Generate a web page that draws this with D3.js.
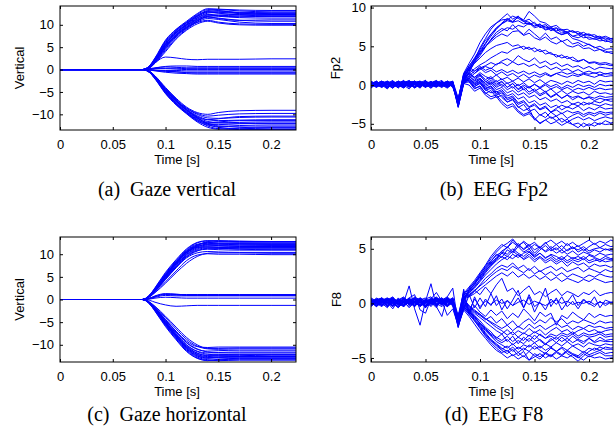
<!DOCTYPE html>
<html>
<head>
<meta charset="utf-8">
<script src="https://d3js.org/d3.v7.min.js"></script>
<style>
  body { margin: 0; background: #fff; }
  .axis text { font-family: "Liberation Sans", Arial, sans-serif; font-size: 13px; fill: #000; }
  .axis line { stroke: #000; }
  .lab { font-family: "Liberation Sans", Arial, sans-serif; font-size: 13px; fill: #000; }
  .cap { font-family: "Liberation Serif", "Times New Roman", serif; font-size: 20px; fill: #000; white-space: pre; }
</style>
</head>
<body>
<div id="chart"></div>
<script>

// sample times (s)
var gazeTimes = [0, 0.078, 0.085, 0.09, 0.1, 0.11, 0.12, 0.13, 0.14, 0.15, 0.17, 0.2, 0.224];
var eegTimes = [0, 0.005, 0.01, 0.015, 0.02, 0.025, 0.03, 0.035, 0.04, 0.045, 0.05, 0.055, 0.06, 0.065, 0.07, 0.075,
  0.08, 0.085, 0.09, 0.095, 0.1, 0.105, 0.11, 0.115, 0.12, 0.125, 0.13, 0.135, 0.14, 0.145, 0.15, 0.155,
  0.16, 0.165, 0.17, 0.175, 0.18, 0.185, 0.19, 0.195, 0.2, 0.205, 0.21, 0.215, 0.22, 0.225];

var xTicks = [0, 0.05, 0.1, 0.15, 0.2];
var gazeYTicks = [-10, -5, 0, 5, 10];
var fp2YTicks = [-5, 0, 5, 10];
var f8YTicks = [-5, 0, 5];

// (a) gaze vertical
var gazeVertical = [
  [0,0,0.8,2.2,5.8,8.4,10.2,12.0,13.2,13.4,13.1,12.9,12.9],
  [0,0,0.6,1.9,5.2,7.9,9.8,11.5,12.6,12.8,12.5,12.3,12.3],
  [0,0,0.9,2.5,6.4,8.9,10.6,12.3,13.4,13.2,12.6,12.4,12.4],
  [0,0,0.5,1.6,4.6,7.3,9.2,10.8,11.7,11.5,11.0,10.8,10.8],
  [0,0,0.7,2.0,5.5,8.1,9.9,11.2,12.0,11.9,11.6,11.5,11.5],
  [0,0,0.6,1.8,5.0,7.6,9.4,10.5,11.0,10.6,10.2,10.1,10.1],
  [0,0,0.8,2.3,6.0,8.6,10.4,11.8,12.8,12.9,12.8,12.7,12.7],
  [0,0,0.4,1.5,4.3,7.0,9.0,10.6,11.4,11.2,10.6,10.3,10.3],
  [0,0,0.7,2.1,5.6,8.2,10.0,11.6,12.3,12.0,11.8,11.9,11.9],
  [0,0,0.9,2.6,6.6,9.0,10.8,12.5,13.6,13.5,13.3,13.2,13.2],
  [0,0,0.5,1.7,4.8,7.5,9.3,10.9,11.9,12.1,12.0,11.9,11.9],
  [0,0,0.6,2.0,5.3,7.8,9.6,11.0,11.8,11.4,11.0,11.1,11.1],
  [0,0,0.7,2.2,5.7,8.3,10.1,11.9,12.9,12.6,12.2,12.0,12.0],
  [0,0,0.4,1.4,4.0,6.8,8.8,10.2,10.8,10.4,10.0,9.9,9.9],
  [0,0,0.8,2.4,6.2,8.7,10.5,12.1,13.0,13.1,12.7,12.5,12.5],
  [0,0,0.6,1.9,5.1,7.7,9.5,11.3,12.2,12.4,12.3,12.2,12.2],
  [0,0,0.5,1.5,2.8,2.6,2.3,2.2,2.3,2.3,2.3,2.4,2.4],
  [0,0,0.2,0.4,0.6,0.5,0.4,0.4,0.4,0.4,0.4,0.4,0.4],
  [0,0,0.1,0.2,0.2,0.1,0.0,0.0,0.0,0.0,0.0,0.0,0.0],
  [0,0,-0.1,-0.2,-0.4,-0.5,-0.6,-0.6,-0.6,-0.6,-0.6,-0.6,-0.6],
  [0,0,-0.1,-0.3,-0.6,-0.8,-0.9,-1.0,-1.0,-1.0,-1.0,-1.0,-1.0],
  [0,0,0.1,0.3,0.7,0.8,0.8,0.7,0.7,0.7,0.7,0.7,0.7],
  [0,0,0,-0.1,-0.2,-0.2,-0.3,-0.3,-0.3,-0.3,-0.3,-0.3,-0.3],
  [0,0,0.1,0.2,0.3,0.3,0.2,0.2,0.2,0.2,0.2,0.2,0.2],
  [0,0,-0.1,-0.2,-0.3,-0.5,-0.7,-0.8,-0.8,-0.8,-0.8,-0.8,-0.8],
  [0,0,-0.6,-1.8,-4.8,-7.2,-9.2,-10.8,-12.0,-12.6,-12.8,-12.9,-12.9],
  [0,0,-0.5,-1.5,-4.2,-6.6,-8.6,-9.8,-10.4,-10.2,-9.9,-9.8,-9.8],
  [0,0,-0.7,-2.0,-5.2,-7.7,-9.7,-11.4,-12.6,-13.2,-13.4,-13.4,-13.4],
  [0,0,-0.5,-1.6,-4.4,-6.9,-8.9,-10.3,-11.2,-11.4,-11.3,-11.2,-11.2],
  [0,0,-0.6,-1.9,-5.0,-7.5,-9.5,-11.1,-12.2,-12.3,-12.1,-12.0,-12.0],
  [0,0,-0.4,-1.4,-4.0,-6.4,-8.4,-9.6,-10.0,-9.6,-9.2,-9.1,-9.1],
  [0,0,-0.7,-2.1,-5.4,-7.9,-9.9,-11.7,-12.9,-13.3,-13.0,-12.8,-12.8],
  [0,0,-0.5,-1.7,-4.6,-7.0,-9.0,-10.6,-11.6,-11.9,-11.8,-11.7,-11.7],
  [0,0,-0.6,-1.8,-4.9,-7.4,-9.4,-10.9,-11.8,-11.7,-11.4,-11.4,-11.4],
  [0,0,-0.4,-1.5,-4.3,-6.8,-8.7,-10.0,-10.8,-10.9,-10.7,-10.6,-10.6],
  [0,0,-0.7,-2.0,-5.3,-7.8,-9.8,-11.5,-12.4,-12.7,-12.5,-12.4,-12.4],
  [0,0,-0.6,-1.7,-4.7,-7.1,-9.1,-10.7,-12.2,-12.9,-13.2,-13.1,-13.1],
  [0,0,-0.5,-1.6,-4.5,-6.9,-9.0,-10.5,-11.2,-11.0,-10.5,-10.4,-10.4],
  [0,0,-0.6,-1.9,-5.1,-7.6,-9.6,-11.2,-12.0,-11.9,-12.0,-12.1,-12.1]
];

// (c) gaze horizontal
var gazeHorizontal = [
  [0,0,0.9,2.2,5.2,8.0,10.4,11.8,12.2,12.2,12.1,12.1,12.1],
  [0,0,0.8,2.0,4.8,7.5,9.9,11.2,11.6,11.5,11.4,11.4,11.4],
  [0,0,1.0,2.5,5.8,8.6,11.0,12.5,12.9,12.8,12.7,12.7,12.7],
  [0,0,0.7,1.8,4.4,7.0,9.2,10.3,10.6,10.5,10.4,10.4,10.4],
  [0,0,0.9,2.3,5.4,8.2,10.6,12.0,12.6,12.5,12.4,12.4,12.4],
  [0,0,0.6,1.6,3.9,6.3,8.6,9.8,10.1,10.0,10.0,9.9,9.9],
  [0,0,0.8,2.1,5.0,7.8,10.2,11.6,12.0,11.9,11.8,11.9,11.9],
  [0,0,1.0,2.4,5.6,8.4,10.8,12.2,12.4,12.3,12.3,12.2,12.2],
  [0,0,0.7,1.9,4.6,7.2,9.5,10.8,11.1,11.0,10.9,10.9,10.9],
  [0,0,0.9,2.2,5.3,8.1,10.5,11.9,12.8,13.0,12.9,12.8,12.8],
  [0,0,0.8,2.0,4.9,7.6,10.0,11.4,11.8,11.8,11.7,11.7,11.7],
  [0,0,0.6,1.5,3.6,5.9,8.0,9.5,10.2,10.3,10.3,10.2,10.2],
  [0,0,0.9,2.3,5.5,8.3,10.7,12.1,12.5,12.4,12.5,12.5,12.5],
  [0,0,0.7,1.8,4.5,7.1,9.4,10.7,11.3,11.3,11.2,11.2,11.2],
  [0,0,1.0,2.6,6.0,8.8,11.2,12.6,13.0,12.9,12.8,12.8,12.8],
  [0,0,0.8,2.1,5.1,7.9,10.3,11.7,12.1,12.0,12.0,12.0,12.0],
  [0,0,0.7,1.9,4.7,7.3,9.7,11.0,11.4,11.3,11.1,11.0,11.0],
  [0,0,0.8,2.2,5.2,8.0,10.4,11.5,11.6,11.5,11.5,11.5,11.5],
  [0,0,0.3,0.8,1.3,1.2,1.0,1.0,1.0,1.0,1.0,1.0,1.0],
  [0,0,0.2,0.6,1.1,1.0,0.9,0.9,0.9,0.9,0.9,0.9,0.9],
  [0,0,0.3,0.7,1.2,1.1,1.1,1.1,1.1,1.1,1.1,1.1,1.1],
  [0,0,0.1,0.3,0.5,0.4,0.3,0.3,0.3,0.3,0.3,0.3,0.3],
  [0,0,-0.2,-0.6,-1.2,-1.5,-1.4,-1.3,-1.3,-1.3,-1.3,-1.3,-1.3],
  [0,0,0.2,0.5,0.9,0.8,0.8,0.8,0.8,0.8,0.8,0.8,0.8],
  [0,0,-0.9,-2.2,-5.2,-8.0,-10.6,-12.2,-12.8,-12.9,-12.9,-12.9,-12.9],
  [0,0,-0.8,-2.0,-4.8,-7.5,-10.0,-11.4,-11.8,-11.7,-11.6,-11.6,-11.6],
  [0,0,-1.0,-2.5,-5.8,-8.7,-11.3,-12.9,-13.4,-13.3,-13.2,-13.2,-13.2],
  [0,0,-0.7,-1.8,-4.4,-7.0,-9.2,-10.4,-10.6,-10.5,-10.5,-10.5,-10.5],
  [0,0,-0.9,-2.3,-5.4,-8.2,-10.8,-12.4,-12.9,-12.7,-12.6,-12.6,-12.6],
  [0,0,-0.6,-1.6,-4.0,-6.5,-8.8,-10.3,-10.9,-11.0,-10.9,-10.9,-10.9],
  [0,0,-0.8,-2.1,-5.0,-7.8,-10.3,-11.8,-12.3,-12.2,-12.1,-12.1,-12.1],
  [0,0,-1.0,-2.4,-5.6,-8.5,-11.1,-12.7,-13.3,-13.5,-13.4,-13.4,-13.4],
  [0,0,-0.7,-1.9,-4.6,-7.2,-9.6,-11.0,-11.4,-11.3,-11.2,-11.2,-11.2],
  [0,0,-0.9,-2.2,-5.3,-8.1,-10.6,-12.1,-12.6,-12.5,-12.6,-12.6,-12.6],
  [0,0,-0.8,-2.0,-4.9,-7.6,-10.1,-11.5,-12.1,-12.2,-12.2,-12.2,-12.2],
  [0,0,-0.6,-1.5,-3.7,-6.1,-8.4,-10.0,-10.8,-10.8,-10.7,-10.7,-10.7],
  [0,0,-0.9,-2.3,-5.5,-8.3,-10.9,-12.5,-13.0,-12.8,-12.7,-12.7,-12.7],
  [0,0,-0.7,-1.8,-4.5,-7.1,-9.5,-10.9,-11.6,-11.8,-11.8,-11.8,-11.8],
  [0,0,-1.0,-2.6,-6.0,-8.9,-11.5,-13.0,-13.5,-13.2,-13.0,-13.0,-13.0],
  [0,0,-0.8,-2.1,-5.1,-7.9,-10.4,-11.9,-12.4,-12.4,-12.4,-12.3,-12.3]
];

// (b) EEG Fp2
var eegFp2 = [
  [0.3,-0.2,0.5,0.1,-0.4,0.2,0.6,-0.1,0.3,-0.3,0.4,0.1,-0.2,0.5,0,0.3,-2.2,1.2,2.4,3.5,4.6,5.8,6.5,7.4,7.9,8.3,8.1,8.8,8.4,9.5,8.9,8.2,8.0,7.5,7.7,7.1,7.2,6.8,6.9,6.5,6.6,6.2,6.0,6.1,5.8,5.9],
  [-0.2,0.4,0,-0.5,0.3,0.1,-0.3,0.5,0.2,-0.1,0.6,-0.2,0.3,0,-0.4,0.2,-2.6,0.8,2.0,3.2,4.8,6.0,7.2,8.0,8.6,9.2,8.5,8.9,8.2,7.8,8.1,7.4,7.6,7.0,7.3,6.7,6.9,6.3,6.5,6.1,6.2,5.9,6.0,5.6,5.7,5.5],
  [0.5,0.1,-0.3,0.2,0.6,-0.2,0.1,0.4,-0.3,0.2,0,0.5,-0.1,0.2,0.4,-0.2,-1.9,1.5,2.8,4.0,5.5,6.6,7.5,8.0,8.4,8.5,8.1,8.3,7.9,8.0,7.6,7.8,7.4,7.5,7.0,7.2,6.8,7.0,6.6,6.8,6.4,6.5,6.1,6.3,6.0,6.1],
  [0,0.4,0.2,-0.3,0.1,0.5,-0.2,0.3,0.1,-0.4,0.3,0.2,0.5,-0.1,0.2,0.4,-2.4,1.0,2.2,3.3,4.4,5.4,6.6,7.3,8.0,8.6,8.2,8.8,8.3,8.1,7.6,7.9,7.2,7.4,6.8,6.5,6.7,6.0,5.8,5.5,5.2,4.9,4.6,4.4,4.1,4.0],
  [0.2,-0.3,0.1,0.4,-0.1,0.3,0,-0.5,0.2,0.4,-0.2,0.1,0.3,0.6,-0.3,0.1,-2.0,0.6,1.8,2.9,3.8,4.9,5.9,6.8,7.3,7.0,7.8,7.1,6.5,7.2,6.6,6.0,6.7,5.9,6.2,5.6,5.9,5.3,5.5,5.0,5.3,4.8,5.0,4.6,4.7,4.5],
  [-0.4,0.2,0.5,0,0.3,-0.2,0.4,0.1,-0.3,0.5,0.2,-0.1,0.4,0.1,0.3,0,-2.8,0.4,1.6,3.0,4.2,5.3,6.3,7.2,7.9,8.4,8.9,8.6,8.2,8.5,7.9,7.6,7.8,7.2,7.4,7.0,6.8,7.0,6.6,6.4,6.5,6.2,6.3,5.9,6.0,5.9],
  [0.1,0.5,-0.2,0.3,0.2,-0.4,0.3,0.6,0,0.2,-0.3,0.4,0.1,-0.2,0.3,0.5,-1.7,1.3,2.5,3.4,4.2,5.0,5.6,6.2,6.6,6.3,6.9,7.0,6.4,6.7,6.1,5.8,6.2,5.6,5.3,5.7,5.1,4.9,5.2,4.7,4.8,4.4,4.6,4.2,4.3,4.2],
  [0.3,0,0.4,-0.2,0.5,0.1,-0.1,0.3,0.5,0,0.2,-0.4,0.3,0.2,-0.1,0.4,-2.3,0.9,2.1,3.1,4.0,5.0,5.8,6.5,7.0,7.4,7.2,7.7,7.5,8.0,7.4,7.6,7.1,7.3,6.9,6.5,6.8,6.3,6.1,6.4,5.9,6.0,5.7,5.8,5.5,5.6],
  [0.2,-0.1,0.3,0.5,0,-0.3,0.2,0.4,-0.2,0.1,0.5,0.2,-0.1,0.3,0,0.2,-2.1,0.7,1.5,2.1,2.6,3.0,3.5,3.9,4.3,4.1,4.6,4.8,5.0,4.6,4.8,4.3,4.5,4.0,3.9,3.5,3.7,3.2,3.0,3.3,2.8,2.9,2.6,2.7,2.5,2.6],
  [-0.1,0.3,0.1,-0.3,0.4,0.2,0,0.5,0.1,-0.2,0.3,0.4,0,0.2,0.5,-0.1,-2.5,0.5,1.2,1.8,2.2,2.5,2.9,2.6,3.1,3.4,3.0,3.8,3.3,3.0,3.5,2.8,3.1,2.6,2.9,2.4,2.7,2.3,2.5,2.1,2.4,2.0,2.3,2.2,2.1,2.2],
  [0.4,0.1,-0.2,0.3,0,0.5,0.2,-0.3,0.4,0.1,-0.1,0.3,0.6,0,0.2,0.3,-1.8,1.1,2.0,2.8,3.5,4.2,4.7,5.1,5.3,5.5,5.0,5.2,4.6,4.9,4.3,4.6,4.0,4.2,3.6,3.9,3.4,3.6,3.1,3.3,2.9,3.0,2.8,2.9,2.7,2.6],
  [0,0.2,0.5,-0.1,0.2,0.4,-0.2,0.1,0.3,0.5,-0.2,0,0.4,0.1,-0.3,0.2,-2.7,0.2,0.9,1.5,2.0,2.4,2.1,2.7,2.9,2.5,3.0,2.6,2.8,2.4,2.7,2.2,2.5,2.0,2.3,1.9,2.1,1.7,2.0,1.6,1.8,1.5,1.7,1.4,1.6,1.5],
  [0.3,-0.2,0.1,0.4,-0.3,0.2,0.5,0,-0.2,0.3,0.1,-0.4,0.2,0.4,-0.1,0.1,-2.4,0.9,1.4,1.0,1.6,1.1,0.8,1.3,0.7,1.0,0.5,0.9,0.4,0.8,0.3,0.7,0.2,0.6,0.4,0.1,0.5,0.2,0.6,0.3,0.5,0.1,0.6,0.4,0.5,0.4],
  [-0.3,0.2,0.4,0,-0.4,0.3,0.1,-0.2,0.5,0.2,-0.1,0.3,0,-0.3,0.4,0.1,-2.9,0.3,1.1,0.6,1.2,0.5,0.1,0.6,-0.2,0.3,-0.4,0.1,-0.6,-0.2,-0.8,-0.4,-0.9,-0.5,-1.1,-0.7,-1.2,-0.8,-1.1,-0.9,-1.3,-0.8,-1.1,-1.0,-1.2,-1.0],
  [0.5,0,-0.3,0.3,0.2,-0.1,0.4,0.2,-0.4,0.1,0.5,0,-0.2,0.2,0.3,-0.3,-2.2,0.6,0.9,0.2,0.7,-0.2,0.2,-0.6,-0.3,-1.0,-0.7,-1.3,-1.0,-1.6,-1.3,-1.9,-1.6,-2.1,-1.8,-2.3,-2.0,-2.5,-2.2,-2.6,-2.3,-2.5,-2.7,-2.4,-2.6,-2.5],
  [0.1,0.4,-0.2,0.2,0.5,0,-0.3,0.3,0.1,-0.2,0.4,0.2,-0.1,0.5,0,0.2,-2.6,0.4,0.6,-0.2,0.3,-0.6,-1.0,-0.8,-1.6,-2.2,-1.9,-2.8,-3.3,-3.0,-4.5,-3.8,-4.2,-3.5,-4.0,-3.6,-4.3,-3.9,-3.6,-4.1,-3.7,-4.0,-3.6,-3.9,-3.7,-3.8],
  [-0.2,0.3,0.1,-0.4,0.2,0.4,0,-0.1,0.3,0.5,-0.3,0.1,0.4,0,-0.2,0.3,-2.3,0.2,0.0,-0.8,-0.4,-1.3,-1.8,-1.5,-2.4,-3.0,-2.7,-3.5,-4.0,-3.7,-4.4,-4.9,-4.5,-5.0,-4.7,-5.2,-4.8,-5.1,-4.9,-5.4,-5.0,-5.3,-4.9,-5.1,-5.0,-5.2],
  [0.2,-0.1,0.5,0.1,-0.3,0.4,0.2,-0.2,0,0.3,0.6,-0.1,0.2,0.3,0.1,-0.2,-2.0,1.0,1.5,0.8,1.3,0.4,0.9,0.1,0.5,-0.3,0.2,-0.6,-0.2,-0.9,-0.5,-1.2,-0.8,-1.5,-1.1,-1.7,-1.3,-1.9,-1.5,-1.8,-1.6,-2.0,-1.7,-1.9,-1.8,-1.8],
  [-0.1,0.3,0,0.4,0.1,-0.3,0.3,0.5,0.1,-0.2,0.2,0.4,0,-0.1,0.5,0.2,-2.1,1.3,2.0,1.5,2.2,1.6,1.9,1.3,1.7,1.2,1.5,1.0,1.4,0.9,1.3,1.0,1.4,1.1,1.5,1.2,1.0,1.3,1.1,1.4,1.2,1.0,1.3,1.1,1.2,1.2],
  [0.4,0.1,-0.2,0.5,0.2,0,-0.4,0.2,0.4,0.1,-0.3,0.3,0.5,0.2,-0.1,0.1,-2.5,0.5,0.8,0.1,0.5,-0.4,-0.1,-0.9,-0.6,-1.4,-1.1,-1.8,-1.5,-2.3,-2.0,-2.6,-2.3,-2.9,-2.6,-3.2,-2.8,-3.1,-2.7,-3.3,-2.9,-3.2,-2.8,-3.1,-3.0,-3.0],
  [0,0.4,0.2,-0.2,0.3,0.1,-0.1,0.4,0.2,0.5,-0.2,0.1,0.3,-0.3,0.2,0.4,-2.7,0.7,1.2,0.5,0.9,0.2,0.6,-0.1,0.4,-0.3,0.2,-0.5,0.0,-0.4,0.1,-0.3,0.2,-0.2,0.1,-0.4,0.0,-0.3,0.1,-0.2,0.0,-0.3,0.1,-0.1,0.0,-0.1],
  [0.3,-0.1,0.2,0.4,-0.2,0.1,0.5,0.2,-0.3,0.2,0.1,0.4,-0.2,0.3,0.1,0,-2.4,0.3,0.4,-0.5,-0.1,-1.1,-0.7,-1.6,-1.3,-2.2,-1.8,-2.9,-2.5,-3.4,-3.1,-3.9,-3.5,-4.3,-4.0,-4.8,-4.4,-5.1,-5.5,-4.9,-5.3,-4.8,-5.1,-4.6,-4.9,-4.7],
  [-0.2,0.2,0.5,0.1,-0.1,0.3,0,0.4,0.1,-0.3,0.3,0.2,0.5,0,0.2,-0.1,-2.2,0.8,1.6,1.0,1.4,0.7,1.1,0.4,0.8,0.2,0.5,-0.1,0.3,-0.3,0.1,-0.4,0.0,-0.5,-0.2,-0.6,-0.3,-0.7,-0.4,-0.6,-0.3,-0.6,-0.4,-0.6,-0.5,-0.5],
  [0.1,-0.3,0.3,0.2,0.4,-0.2,0.1,0.3,0.5,0,-0.1,0.3,0.2,0.4,-0.2,0.3,-2.8,0.1,0.9,0.3,0.8,0.0,0.4,-0.3,0.1,-0.6,-0.2,-0.9,-0.5,-1.2,-0.8,-1.4,-1.0,-1.6,-1.2,-1.7,-1.3,-1.6,-1.4,-1.8,-1.5,-1.7,-1.4,-1.6,-1.5,-1.5],
  [0.2,0.5,0,-0.2,0.3,0.1,0.4,-0.3,0.2,0.3,0,-0.2,0.4,0.1,0.3,0.2,-2.1,0.6,0.5,-0.4,-0.2,-1.0,-1.5,-1.3,-2.1,-2.7,-2.4,-3.3,-3.8,-3.5,-4.2,-5.0,-4.5,-4.1,-4.6,-4.3,-4.8,-4.4,-4.1,-4.5,-4.2,-4.6,-4.3,-4.1,-4.3,-4.2],
  [0.4,0.1,0.3,-0.2,0.2,0.5,0.1,-0.1,0.3,0.4,0.2,0,-0.3,0.2,0.5,0.1,-1.9,1.5,2.3,1.8,2.4,1.9,2.2,1.7,2.0,1.6,1.9,1.5,1.8,1.4,1.7,1.3,1.6,1.2,1.5,1.7,1.4,1.6,1.3,1.5,1.4,1.6,1.3,1.5,1.4,1.5],
  [-0.3,0.1,0.4,0.2,-0.1,0.3,0.5,0,0.2,-0.2,0.4,0.1,0.3,-0.1,0.2,0.5,-2.6,0.4,0.7,0.0,0.4,-0.5,-0.2,-1.1,-0.8,-1.7,-1.4,-2.3,-2.0,-2.8,-2.4,-3.1,-2.7,-3.5,-3.0,-2.6,-2.9,-2.4,-2.7,-2.2,-2.5,-2.1,-2.3,-1.9,-2.1,-2.0],
  [0.1,0.3,-0.1,0.4,0,0.2,-0.2,0.5,0.3,0.1,-0.2,0.4,0.1,0.2,0.4,-0.1,-2.3,0.7,0.6,-0.2,0.2,-0.7,-0.4,-1.3,-1.0,-1.9,-1.6,-2.5,-2.2,-2.9,-2.6,-3.2,-2.9,-3.5,-3.2,-3.7,-3.3,-3.6,-3.4,-3.8,-3.5,-3.7,-3.4,-3.6,-3.5,-3.5]
];

// (d) EEG F8
var eegF8 = [
  [0.2,-0.3,0.4,0.1,-0.5,0.3,0.6,-0.2,0.1,0.4,-0.3,0.2,0.5,-0.1,0.3,0,-1.2,0.5,0.9,1.5,2.2,2.9,3.6,4.2,4.8,5.1,5.6,5.2,5.7,5.3,5.6,5.1,5.5,5.8,5.4,5.7,5.3,5.6,5.2,5.5,5.8,5.4,5.7,5.5,5.8,5.6],
  [-0.3,0.2,0,0.5,0.2,-0.4,0.1,0.3,0.5,-0.2,0.2,0.4,-0.1,0.3,0.6,0.1,-1.8,0.2,1.1,1.8,2.6,3.4,4.1,4.7,5.2,5.5,5.9,5.3,5.0,5.4,4.9,5.2,4.7,5.0,4.6,4.9,4.5,4.8,4.4,4.7,4.5,4.3,4.6,4.4,4.5,4.5],
  [0.4,0.1,-0.2,0.3,0.6,0,-0.3,0.2,0.4,0.1,-0.4,0.3,0.2,0.5,-0.2,0.3,-1.5,0.8,1.0,1.4,2.0,2.6,3.1,3.6,4.0,4.3,4.1,4.5,4.0,4.3,3.8,4.2,3.7,4.0,3.6,3.9,3.4,3.8,3.5,3.7,3.3,3.6,3.4,3.5,3.3,3.5],
  [0,0.5,0.2,-0.3,0.1,0.4,0.2,-0.1,0.6,0.3,-0.2,0.1,0.4,0.2,-0.3,0.5,-2.0,0.4,1.3,2.0,2.4,3.2,3.8,4.5,4.2,4.9,4.6,5.2,4.7,5.0,4.4,4.9,5.3,4.8,5.1,4.6,4.9,5.2,4.7,5.0,4.6,4.9,4.7,5.0,4.8,4.8],
  [0.3,-0.2,0.1,0.4,0,-0.3,0.5,0.2,-0.1,0.3,0.1,0.4,-0.2,0.2,0.1,0.4,-1.4,0.6,0.8,1.2,1.6,2.0,2.5,2.9,3.2,3.0,3.4,3.1,2.8,3.2,2.7,3.0,2.6,2.9,2.5,2.8,2.4,2.7,2.5,2.3,2.6,2.4,2.7,2.5,2.4,2.5],
  [-0.2,0.3,0.5,0,0.2,-0.1,0.4,0.1,-0.3,0.5,0.2,0,0.3,-0.2,0.4,0.2,-1.7,0.3,1.2,1.7,2.5,3.1,3.7,4.1,4.6,4.3,4.8,4.4,4.1,4.5,4.0,4.3,3.9,4.2,3.8,4.1,3.7,4.0,3.8,4.1,3.7,3.9,4.0,3.8,3.9,3.9],
  [0.1,0.4,-0.2,0.2,0.5,0.1,-0.3,0.3,0.2,-0.1,0.4,0.6,0,0.2,0.3,-0.1,-1.3,0.9,1.5,2.1,2.8,3.5,4.3,4.9,5.4,5.1,5.8,5.3,5.6,5.0,5.4,5.1,4.8,5.2,4.9,5.3,4.8,5.1,4.9,5.2,4.8,5.0,5.1,4.9,5.0,5.0],
  [0.5,0.2,0,-0.4,0.3,0.2,0.1,0.4,-0.2,0.1,0.3,-0.1,0.5,0.3,0,0.2,-1.9,0.5,0.7,1.1,1.7,2.3,2.7,3.2,3.5,3.3,3.7,3.2,3.5,3.0,3.4,2.9,3.2,3.4,3.0,3.3,2.9,3.1,3.3,2.9,3.2,3.0,2.8,3.1,2.9,3.0],
  [-0.1,0.2,0.4,0.3,-0.2,0.5,0,0.2,0.4,-0.3,0.1,0.3,0.2,-0.1,0.5,0.1,-1.6,0.7,1.4,1.9,2.7,3.3,3.9,4.4,4.7,4.5,5.0,4.6,4.3,4.7,4.2,4.6,4.1,4.5,4.3,4.0,4.4,4.1,4.3,4.0,4.4,4.2,4.0,4.3,4.1,4.2],
  [0.2,0,0.3,-0.3,0.4,0.2,-0.1,0.5,0.1,0.3,-0.2,0.2,0.4,0,0.2,0.5,-1.1,1.0,1.2,1.8,2.3,3.0,3.5,4.0,4.6,5.2,4.7,5.5,4.9,5.3,4.6,5.1,5.6,5.0,5.4,4.9,5.5,5.0,5.3,4.8,5.2,5.5,5.1,5.4,5.2,5.3],
  [0.3,0.1,-0.2,0.2,0.5,-0.1,0.3,0,0.4,0.2,-0.3,0.1,0.3,0.5,0.1,-0.2,-1.5,0.4,0.6,0.9,1.3,1.7,2.1,2.5,2.8,2.5,2.9,2.4,2.7,2.3,2.6,2.2,2.5,2.1,2.4,2.0,2.3,2.1,1.9,2.2,2.0,2.3,2.1,1.9,2.0,2.0],
  [0,0.3,0.5,0.1,-0.2,0.3,0.2,-0.4,0.1,0.4,0.2,0,-0.2,0.3,0.5,0.2,-1.8,0.6,1.0,1.6,2.1,2.8,3.4,3.9,4.3,4.0,4.5,4.2,4.6,4.8,4.3,4.6,4.2,4.4,4.0,4.3,3.9,4.2,4.0,4.3,3.9,4.1,3.8,4.1,4.0,4.0],
  [0.2,-0.3,0.1,0.4,-0.2,0.3,0.1,1.6,-0.5,-2.0,0.2,1.8,-0.3,-1.2,0.6,1.4,-1.9,-0.6,0.8,-0.4,0.5,-0.3,0.9,-0.2,0.4,-0.5,0.3,1.2,-0.4,0.6,-0.8,0.2,1.4,-0.3,0.5,-0.6,0.1,0.8,-0.2,0.4,-0.1,0.6,-0.4,0.3,0.1,0.2],
  [-0.1,0.4,0.2,-0.3,0.5,0,-0.2,0.3,0.1,0.4,-0.4,0.2,0.6,0.1,-0.3,0.2,-1.5,0.8,-0.7,0.4,-0.3,0.2,-0.1,0.3,0.0,0.2,-0.2,0.1,0.3,-0.1,0.2,0.0,-0.2,0.1,0.3,0.0,0.2,-0.1,0.1,0.0,0.2,-0.1,0.1,0.0,0.1,0.0],
  [0.3,0,-0.3,0.2,0.4,-0.1,0.5,0.2,0.0,-0.2,0.3,0.1,-0.4,0.4,0.2,0,-1.3,1.1,0.6,1.2,0.8,1.5,0.9,1.7,2.3,1.1,1.4,0.7,1.2,1.6,0.8,1.1,0.6,1.0,1.3,0.7,1.1,0.9,0.6,1.0,0.8,1.2,0.7,0.9,1.0,0.9],
  [0.1,-0.2,0.3,0.5,0,-0.4,0.2,0.1,0.4,-0.1,0.2,-0.3,0.3,0,0.5,-0.2,-2.2,0.3,-0.9,-0.2,-0.8,-1.2,-0.6,-1.1,-0.7,-1.4,-0.9,-1.3,-0.5,-1.0,-1.6,-0.8,-1.2,-0.9,-2.0,-1.1,-1.4,-0.8,-1.2,-1.5,-0.9,-1.3,-1.0,-1.2,-1.1,-1.2],
  [-0.2,0.2,0.4,-0.1,0.3,0.2,-0.3,0.5,0.8,-0.6,-0.9,0.4,1.0,0.2,-1.1,-0.5,-2.0,1.3,-1.0,0.6,-0.5,0.4,-0.2,0.7,-0.6,0.3,-0.2,0.5,-0.4,0.8,-0.3,0.1,-0.6,0.4,-0.1,0.6,-0.3,0.2,-0.5,0.3,0.0,-0.3,0.2,-0.2,0.1,0.0],
  [0.4,0.1,-0.1,0.3,-0.2,0.4,0.1,0.2,-0.3,0.3,0.5,-0.1,0.2,0.3,-0.2,0.4,-1.6,0.5,-0.3,-0.8,-1.1,-1.5,-1.2,-1.8,-1.4,-2.0,-1.6,-2.2,-1.7,-1.4,-1.9,-1.5,-1.8,-1.3,-1.7,-1.4,-1.9,-1.6,-1.8,-1.5,-1.7,-1.9,-1.6,-1.8,-1.7,-1.8],
  [0.1,0.3,-0.2,0.4,0.2,-0.3,0.1,0.5,0,-0.2,0.3,0.2,-0.1,0.4,0.1,0.3,-1.4,-0.3,-0.8,-1.3,-1.8,-2.3,-2.8,-3.1,-3.4,-3.0,-3.5,-3.1,-3.4,-2.9,-3.3,-2.8,-3.2,-3.0,-3.3,-2.9,-3.1,-2.8,-3.2,-2.9,-3.1,-3.0,-2.8,-3.1,-3.0,-3.0],
  [-0.3,0.2,0.4,0,-0.2,0.3,0.5,-0.1,0.2,0.1,-0.4,0.3,0.2,0,0.4,-0.2,-2.0,-0.5,-1.0,-1.6,-2.2,-2.9,-3.4,-3.9,-4.3,-4.6,-4.2,-4.8,-4.4,-5.2,-4.6,-4.9,-4.5,-4.8,-4.4,-4.7,-4.3,-4.6,-4.8,-4.4,-4.7,-4.5,-4.3,-4.6,-4.5,-4.5],
  [0.2,0,0.3,-0.3,0.4,0.1,-0.1,0.2,0.5,0.3,-0.2,0,0.4,0.2,-0.3,0.1,-1.2,0.2,-0.4,-0.9,-1.3,-1.7,-2.1,-2.5,-2.8,-2.4,-2.9,-2.5,-2.8,-2.3,-2.7,-2.4,-2.9,-2.5,-2.2,-2.6,-2.4,-2.8,-2.5,-2.3,-2.6,-2.4,-2.7,-2.5,-2.4,-2.5],
  [0.4,-0.1,0.1,0.3,-0.3,0.2,0.4,0,-0.2,0.5,0.1,0.3,-0.1,0.2,0.4,0,-1.7,-0.1,-0.7,-1.2,-1.9,-2.5,-3.0,-3.5,-3.8,-4.1,-3.7,-4.2,-3.8,-4.0,-3.6,-4.1,-3.7,-4.0,-3.6,-3.9,-3.5,-3.9,-3.7,-4.0,-3.6,-3.8,-3.9,-3.7,-3.8,-3.8],
  [0,0.3,0.1,-0.2,0.4,0.2,-0.3,0.3,0.1,-0.1,0.4,0.2,0,-0.3,0.2,0.5,-2.1,-0.6,-1.2,-1.9,-2.6,-3.2,-3.8,-4.3,-4.6,-5.0,-4.7,-5.1,-4.8,-5.2,-4.9,-4.6,-5.0,-4.7,-5.1,-4.8,-5.0,-4.7,-4.9,-5.2,-4.8,-5.0,-4.9,-5.1,-5.0,-5.0],
  [-0.2,0.4,0.2,0.1,-0.3,0.3,0,0.2,0.4,-0.2,0.1,0.5,0.2,-0.1,0.3,0.1,-1.5,0.1,-0.5,-1.1,-1.6,-2.2,-2.6,-3.2,-2.8,-3.5,-3.0,-3.7,-3.1,-3.5,-2.9,-3.4,-3.8,-3.2,-3.6,-3.1,-3.5,-3.0,-3.4,-3.7,-3.2,-3.5,-3.1,-3.4,-3.3,-3.3],
  [0.3,0.1,-0.2,0.4,0.1,-0.1,0.3,0.4,-0.3,0.2,0,0.3,0.5,0.1,-0.2,0.3,-1.9,-0.2,-0.8,-1.4,-2.0,-2.7,-3.3,-3.7,-4.1,-4.4,-4.0,-4.5,-4.1,-4.4,-3.9,-4.3,-4.6,-4.1,-4.4,-4.0,-4.3,-3.9,-4.2,-4.5,-4.1,-4.3,-4.0,-4.2,-4.2,-4.2],
  [0.1,-0.3,0.2,0.3,0.5,0,-0.2,0.1,0.3,0.4,-0.1,0.2,-0.3,0.4,0.2,0,-1.3,0.4,-0.2,-0.6,-1.0,-1.4,-1.8,-2.2,-2.5,-2.9,-2.6,-3.1,-2.7,-3.0,-2.6,-2.9,-3.2,-2.8,-3.0,-2.7,-2.9,-2.6,-3.0,-2.7,-2.9,-2.8,-2.6,-2.9,-2.8,-2.8],
  [-0.1,0.2,0.5,0.1,0,0.3,-0.2,0.4,0.2,-0.3,0.3,0.1,0.4,0,0.2,-0.1,-1.8,-0.4,-1.0,-1.6,-2.3,-3.0,-3.6,-4.1,-4.5,-4.3,-4.8,-4.5,-4.9,-4.4,-4.8,-5.1,-4.6,-4.9,-4.5,-4.8,-4.4,-4.7,-5.0,-4.6,-4.9,-4.7,-4.5,-4.8,-4.8,-4.8],
  [0.2,0.4,-0.1,0.1,0.3,-0.2,0.2,0,0.4,0.1,-0.2,0.3,0.1,0.5,-0.1,0.2,-1.6,0.0,-0.6,-1.2,-1.8,-2.4,-2.9,-3.3,-3.6,-3.3,-3.8,-3.4,-3.7,-3.2,-3.6,-3.3,-3.7,-3.4,-3.1,-3.5,-3.2,-3.6,-3.3,-3.5,-3.2,-3.6,-3.4,-3.5,-3.5,-3.5],
  [0.3,-0.1,0.2,0.4,0,0.3,0.1,-0.3,0.2,0.5,0.1,-0.2,0.3,0.2,0.4,-0.1,-1.1,0.3,-0.3,-0.7,-1.0,-1.4,-1.7,-2.0,-2.3,-2.0,-2.5,-2.1,-2.4,-1.9,-2.3,-2.0,-2.4,-2.1,-1.8,-2.2,-2.0,-2.4,-2.1,-2.3,-2.0,-2.2,-2.1,-2.3,-2.2,-2.2],
  [0,0.2,0.4,-0.2,0.3,0.1,0.4,-0.1,0.2,0.3,0,0.4,-0.2,0.1,0.3,0.2,-2.2,-0.3,-0.9,-1.5,-2.1,-2.8,-3.4,-3.8,-4.2,-3.9,-4.4,-4.0,-4.3,-3.8,-4.2,-3.9,-4.3,-4.0,-4.4,-4.1,-4.6,-4.9,-5.3,-4.8,-4.4,-4.1,-4.3,-4.0,-4.1,-4.0]
];

// panel layout
var panels = [
  {left: 60, right: 296, top: 6, bottom: 130, xMax: 0.2236, yDomain: [-13.5, 14.2], yTicks: gazeYTicks,
   times: gazeTimes, traces: gazeVertical, curve: d3.curveMonotoneX, yLabel: "Vertical", yLabX: 24, pad: 6,
   caption: "(a)  Gaze vertical", capX: 167, capY: 196},
  {left: 371, right: 613, top: 6, bottom: 130, xMax: 0.222, yDomain: [-5.8, 10.2], yTicks: fp2YTicks,
   times: eegTimes, traces: eegFp2, curve: d3.curveLinear, yLabel: "Fp2", yLabX: 340, pad: 5,
   caption: "(b)  EEG Fp2", capX: 494, capY: 196},
  {left: 60, right: 296, top: 237, bottom: 362, xMax: 0.2236, yDomain: [-13.8, 13.8], yTicks: gazeYTicks,
   times: gazeTimes, traces: gazeHorizontal, curve: d3.curveMonotoneX, yLabel: "Vertical", yLabX: 24, pad: 6,
   caption: "(c)  Gaze horizontal", capX: 167, capY: 421},
  {left: 371, right: 613, top: 237, bottom: 362, xMax: 0.222, yDomain: [-5.37, 6.08], yTicks: f8YTicks,
   times: eegTimes, traces: eegF8, curve: d3.curveLinear, yLabel: "F8", yLabX: 341, pad: 5,
   caption: "(d)  EEG F8", capX: 494, capY: 421}
];

var svg = d3.select("#chart")
  .append("svg")
    .attr("width", 616)
    .attr("height", 434);

panels.forEach(function(p, k) {
  var x = d3.scaleLinear().domain([0, p.xMax]).range([p.left, p.right]);
  var y = d3.scaleLinear().domain(p.yDomain).range([p.bottom, p.top]);

  svg.append("clipPath")
      .attr("id", "clip" + k)
    .append("rect")
      .attr("x", p.left).attr("y", p.top)
      .attr("width", p.right - p.left).attr("height", p.bottom - p.top);

  var line = d3.line()
    .x(function(d, i) { return x(p.times[i]); })
    .y(function(d) { return y(d); })
    .curve(p.curve);

  // traces
  svg.append("g")
      .attr("clip-path", "url(#clip" + k + ")")
    .selectAll("path")
    .data(p.traces)
    .enter()
    .append("path")
      .attr("d", line)
      .attr("fill", "none")
      .attr("stroke", "#0000ff")
      .attr("stroke-width", 1);

  // axes, ticks pointing inward on all four sides
  var fmt = d3.format("");
  svg.append("g")
      .attr("class", "axis")
      .attr("transform", "translate(0," + p.bottom + ")")
      .call(d3.axisBottom(x).tickValues(xTicks).tickSizeInner(-3).tickSizeOuter(0).tickPadding(10).tickFormat(fmt));
  svg.append("g")
      .attr("class", "axis")
      .attr("transform", "translate(0," + p.top + ")")
      .call(d3.axisTop(x).tickValues(xTicks).tickSizeInner(-3).tickSizeOuter(0).tickFormat(""));
  svg.append("g")
      .attr("class", "axis")
      .attr("transform", "translate(" + p.left + ",0)")
      .call(d3.axisLeft(y).tickValues(p.yTicks).tickSizeInner(-3).tickSizeOuter(0).tickPadding(p.pad).tickFormat(fmt));
  svg.append("g")
      .attr("class", "axis")
      .attr("transform", "translate(" + p.right + ",0)")
      .call(d3.axisRight(y).tickValues(p.yTicks).tickSizeInner(-3).tickSizeOuter(0).tickFormat(""));
  svg.selectAll(".axis .domain").remove();

  svg.append("rect")
      .attr("x", p.left).attr("y", p.top)
      .attr("width", p.right - p.left).attr("height", p.bottom - p.top)
      .attr("fill", "none")
      .attr("stroke", "#000")
      .attr("stroke-width", 1);

  // labels
  svg.append("text")
      .attr("class", "lab")
      .attr("x", (p.left + p.right) / 2 - 1)
      .attr("y", p.bottom + 34)
      .attr("text-anchor", "middle")
      .text("Time [s]");
  svg.append("text")
      .attr("class", "lab")
      .attr("transform", "translate(" + p.yLabX + "," + ((p.top + p.bottom) / 2) + ") rotate(-90)")
      .attr("text-anchor", "middle")
      .text(p.yLabel);

  svg.append("text")
      .attr("class", "cap")
      .attr("x", p.capX)
      .attr("y", p.capY)
      .attr("text-anchor", "middle")
      .text(p.caption);
});

</script>
</body>
</html>
